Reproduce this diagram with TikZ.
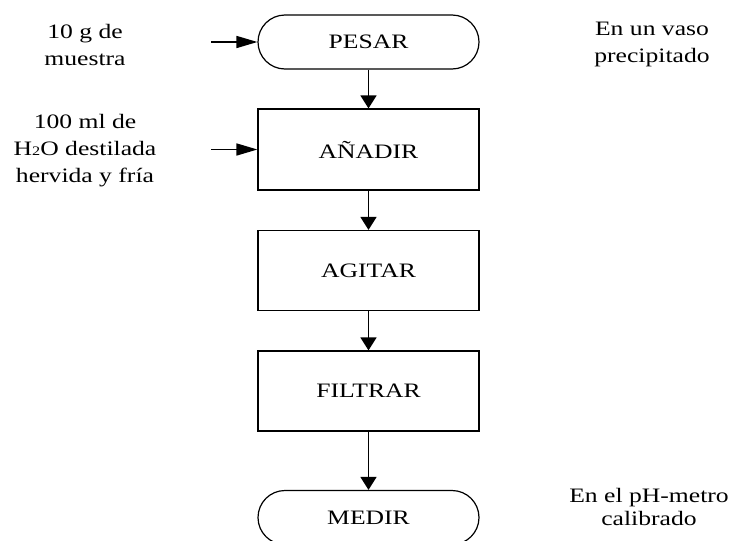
\documentclass[tikz,border=0pt]{standalone}
\usepackage{fontspec}
\setmainfont{Liberation Serif}[FakeStretch=1.25]
\usetikzlibrary{arrows.meta}
\begin{document}
\begin{tikzpicture}[x=1pt,y=-1pt,
  every node/.style={font=\fontsize{20.5}{27}\selectfont, align=center, inner sep=0pt},
  procbox/.style={draw, line width=1.2pt, minimum width=221pt, minimum height=80pt},
  termbox/.style={draw, line width=1.2pt, minimum width=221pt, minimum height=54pt, rounded corners=27pt},
  varrow/.style={line width=1.6pt, -{Triangle[length=13pt,width=16pt]}},
  harrow/.style={line width=1.6pt, -{Triangle[length=21pt,width=12pt]}}
]
\useasboundingbox (0,0) rectangle (734,541);
\node[termbox] (pesar) at (368.5,42) {PESAR};
\node[procbox, minimum height=81pt] (anadir) at (368.5,149.5) {AÑADIR};
\node[procbox] (agitar) at (368.5,270.5) {AGITAR};
\node[procbox] (filtrar) at (368.5,391) {FILTRAR};
\node[termbox] (medir) at (368.5,517.5) {MEDIR};

\node (in1) at (85,45) {10 g de\\muestra};
\node (in2) at (85,151) {100 ml de\\H{\fontsize{13}{13}\selectfont 2}O destilada\\hervida y fría};
\node (n1) at (652,44) {En un vaso\\precipitado};
\node[font=\fontsize{20.5}{23}\selectfont] (n2) at (649,507) {En el pH-metro\\calibrado};

\coordinate (s1) at (211,42);
\coordinate (s2) at (211,149.5);
\draw[harrow] (s1) -- (pesar.west);
\draw[harrow] (s2) -- (anadir.west);
\draw[varrow] (pesar) -- (anadir);
\draw[varrow] (anadir) -- (agitar);
\draw[varrow] (agitar) -- (filtrar);
\draw[varrow] (filtrar) -- (medir);
\end{tikzpicture}
\end{document}
